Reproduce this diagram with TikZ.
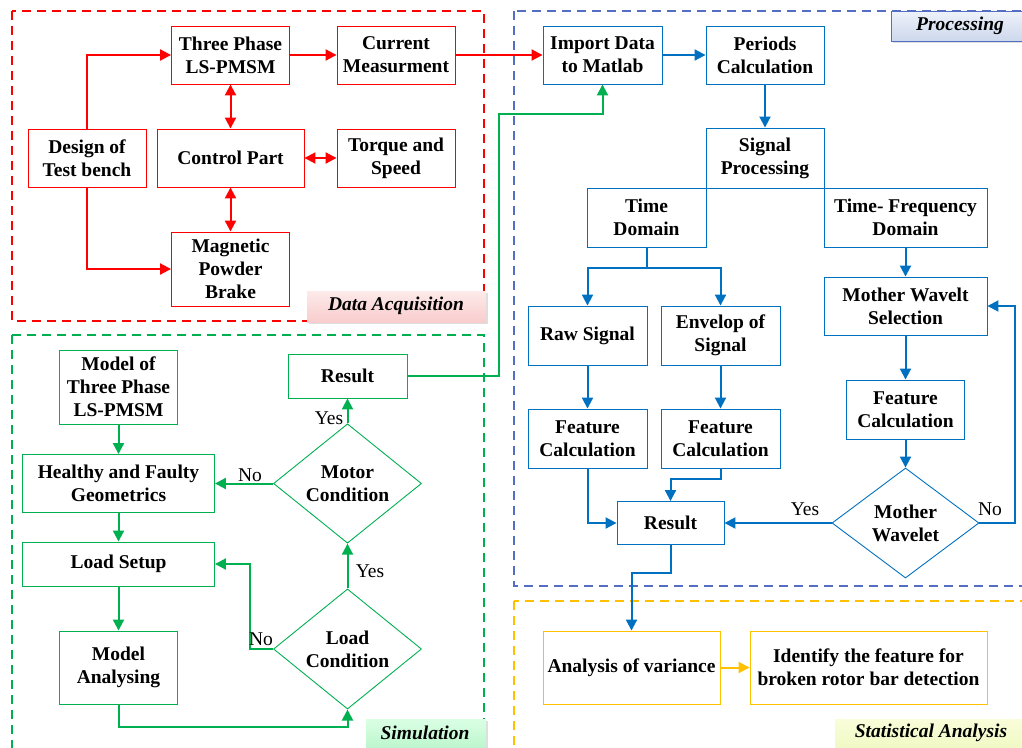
\documentclass[tikz,border=0pt]{standalone}
\usepackage{fontspec}
\setmainfont{Liberation Serif}
\usetikzlibrary{arrows.meta,shapes.geometric,calc}

\definecolor{cred}{RGB}{255,0,0}
\definecolor{cblue}{RGB}{0,112,192}
\definecolor{cgreen}{RGB}{0,176,80}
\definecolor{cyellow}{RGB}{255,192,0}
\definecolor{cframe}{RGB}{84,110,196}
\definecolor{pinkA}{RGB}{253,234,234}
\definecolor{pinkB}{RGB}{249,205,205}
\definecolor{blueA}{RGB}{238,242,250}
\definecolor{blueB}{RGB}{205,216,236}
\definecolor{greenA}{RGB}{218,255,228}
\definecolor{greenB}{RGB}{188,246,205}
\definecolor{yelA}{RGB}{249,253,218}
\definecolor{yelB}{RGB}{240,249,196}

\tikzset{
  box/.style={draw, line width=0.9pt, rectangle, inner sep=0pt, align=center},
  rbox/.style={box, draw=cred},
  bbox/.style={box, draw=cblue},
  gbox/.style={box, draw=cgreen},
  ybox/.style={box, draw=cyellow},
  dia/.style={draw, line width=0.9pt, diamond, inner sep=0pt, align=center,
              minimum width=148pt, minimum height=110pt},
  head/.tip={Triangle[length=11pt,width=11pt]},
  conn/.style={line width=2pt, -head},
  rline/.style={conn, color=cred},
  rboth/.style={line width=2pt, color=cred, head-head},
  bline/.style={conn, color=cblue},
  gline/.style={conn, color=cgreen},
  yline/.style={conn, color=cyellow},
  region/.style={line width=1.7pt, dash pattern=on 9pt off 6pt},
  shadowbox/.style={fill=black!13, draw=none},
  tag/.style={font=\fontsize{19.5}{23}\selectfont\bfseries\itshape},
  yn/.style={font=\fontsize{19.5}{23}\selectfont\normalfont},
}

\begin{document}
\begin{tikzpicture}[x=1pt, y=-1pt, font=\fontsize{19.5}{23}\selectfont\bfseries]
\useasboundingbox (0,0) rectangle (1022,747);
\clip (0,0) rectangle (1022,747);

% ---- dashed region frames ----
\draw[region, cred]    (12,11)  rectangle (484,321);
\draw[region, cgreen]  (12,335) rectangle (484,760);
\draw[region, cframe]  (514,11) rectangle (1040,586);
\draw[region, cyellow] (514,601) rectangle (1040,760);

% ---- region tags ----
\fill[shadowbox] (309,293) rectangle (488,324);
\shade[top color=pinkA, bottom color=pinkB] (307,291) rectangle (486,322);
\node[tag] (tagacq) at (396,306) {Data Acquisition};

\fill[shadowbox] (893,13) rectangle (1032,43);
\shade[top color=blueA, bottom color=blueB] (891,11) rectangle (1030,41);
\draw[cframe, line width=1pt] (891,11) rectangle (1030,41);
\node[tag] (tagproc) at (960,26) {Processing};

\fill[shadowbox] (368,721) rectangle (488,750);
\shade[top color=greenA, bottom color=greenB] (366,719) rectangle (486,748);
\node[tag] (tagsim) at (425,733) {Simulation};

\shade[top color=yelA, bottom color=yelB] (835,719) rectangle (1030,748);
\node[tag] (tagstat) at (931,733) {Statistical Analysis};

% ---- data acquisition ----
\node[rbox, minimum width=118pt, minimum height=58pt] (dtb) at (87,158)   {Design of\\Test bench};
\node[rbox, minimum width=118pt, minimum height=58pt] (tp)  at (230.5,55) {Three Phase\\LS-PMSM};
\node[rbox, minimum width=118pt, minimum height=58pt] (cm)  at (396,55)   {Current\\Measurment};
\node[rbox, minimum width=147pt, minimum height=58pt] (cp)  at (230.5,158){Control Part};
\node[rbox, minimum width=118pt, minimum height=58pt] (ts)  at (396,158)  {Torque and\\Speed};
\node[rbox, minimum width=118pt, minimum height=74pt] (mpb) at (230.5,269){Magnetic\\Powder\\Brake};

\draw[rline] (dtb.north) |- (tp.west);
\draw[rline] (dtb.south) |- (mpb.west);
\draw[rline] (tp.east) -- (cm.west);
\draw[rboth] (tp.south) -- (cp.north);
\draw[rboth] (cp.south) -- (mpb.north);
\draw[rboth] (cp.east) -- (ts.west);

% ---- processing ----
\node[bbox, minimum width=119pt, minimum height=58pt] (imp) at (602.5,55)   {Import Data\\to Matlab};
\node[bbox, minimum width=118pt, minimum height=58pt] (pc)  at (765,55)     {Periods\\Calculation};
\node[bbox, minimum width=118pt, minimum height=60pt] (sp)  at (765,158)    {Signal\\Processing};
\node[bbox, minimum width=119pt, minimum height=59pt] (td)  at (646.5,217.5){Time\\Domain};
\node[bbox, minimum width=163pt, minimum height=59pt] (tf)  at (905.5,217.5){Time- Frequency\\Domain};
\node[bbox, minimum width=163pt, minimum height=58pt] (mws) at (905.5,306)  {Mother Wavelt\\Selection};
\node[bbox, minimum width=119pt, minimum height=59pt] (raw) at (587.5,335.5){Raw Signal};
\node[bbox, minimum width=119pt, minimum height=59pt] (env) at (720.5,335.5){Envelop of\\Signal};
\node[bbox, minimum width=119pt, minimum height=59pt] (fc1) at (587.5,438.5){Feature\\Calculation};
\node[bbox, minimum width=119pt, minimum height=59pt] (fc2) at (720.5,438.5){Feature\\Calculation};
\node[bbox, minimum width=118pt, minimum height=59pt] (fc3) at (905.5,409.5){Feature\\Calculation};
\node[bbox, minimum width=107pt, minimum height=43pt] (res) at (670.5,523)  {Result};
\node[dia, draw=cblue, minimum width=147pt] (mw) at (905.5,523) {Mother\\Wavelet};

\draw[rline] (cm.east) -- (imp.west);
\draw[bline] (imp.east) -- (pc.west);
\draw[bline] (pc.south) -- (sp.north);
\draw[bline] (td.south) -- ++(0,21) coordinate (tdj) -| (raw.north);
\draw[bline] (tdj) -| (env.north);
\draw[bline] (tf.south) -- (mws.north);
\draw[bline] (raw.south) -- (fc1.north);
\draw[bline] (env.south) -- (fc2.north);
\draw[bline] (mws.south) -- (fc3.north);
\draw[bline] (fc3.south) -- (mw.north);
\draw[bline] (fc1.south) |- (res.west);
\draw[bline] (fc2.south) -- ++(0,11) -| (res.north);
\draw[bline] (mw.west) -- (res.east);
\draw[bline] (mw.east) -- ++(36,0) |- (mws.east);
\node[yn] (yesmw) at (805,509) {Yes};
\node[yn] (nomw)  at (990,509) {No};

% ---- statistical analysis ----
\node[ybox, minimum width=177pt, minimum height=73pt] (anova) at (631.5,667.5) {Analysis of variance};
\node[ybox, minimum width=237pt, minimum height=73pt] (idf)   at (868.5,667.5) {Identify the feature for\\broken rotor bar detection};

\draw[bline] (res.south) -- ++(0,28) -| (anova.north);
\draw[yline] (anova.east) -- (idf.west);

% ---- simulation ----
\node[gbox, minimum width=118pt, minimum height=74pt] (mod) at (118.5,387)   {Model of\\Three Phase\\LS-PMSM};
\node[gbox, minimum width=192pt, minimum height=58pt] (hfg) at (118.5,483.5) {Healthy and Faulty\\Geometrics};
\node[gbox, minimum width=192pt, minimum height=44pt] (ls)  at (118.5,564)   {Load Setup};
\node[gbox, minimum width=118pt, minimum height=73pt] (ma)  at (118.5,667.5) {Model\\Analysing};
\node[gbox, minimum width=119pt, minimum height=44pt] (rs)  at (347.5,376)   {Result};
\node[dia, draw=cgreen] (mc) at (347.5,483.5) {Motor\\Condition};
\node[dia, draw=cgreen] (lc) at (347.5,649)   {Load\\Condition};

\draw[gline] (mod.south) -- (hfg.north);
\draw[gline] (hfg.south) -- (ls.north);
\draw[gline] (ls.south) -- (ma.north);
\draw[gline] (ma.south) -- ++(0,23) -| (lc.south);
\draw[gline] (lc.north) -- (mc.south);
\draw[gline] (lc.west) -- ++(-23,0) |- (ls.east);
\draw[gline] (mc.west) -- (hfg.east);
\draw[gline] (mc.north) -- (rs.south);
\coordinate (gk) at (499,114);
\draw[gline] (rs.east) -| (gk) -| (imp.south);
\node[yn] (yesmc) at (329,418) {Yes};
\node[yn] (nomc)  at (250,475) {No};
\node[yn] (yeslc) at (370,571) {Yes};
\node[yn] (nolc)  at (261,639) {No};
\end{tikzpicture}
\end{document}
